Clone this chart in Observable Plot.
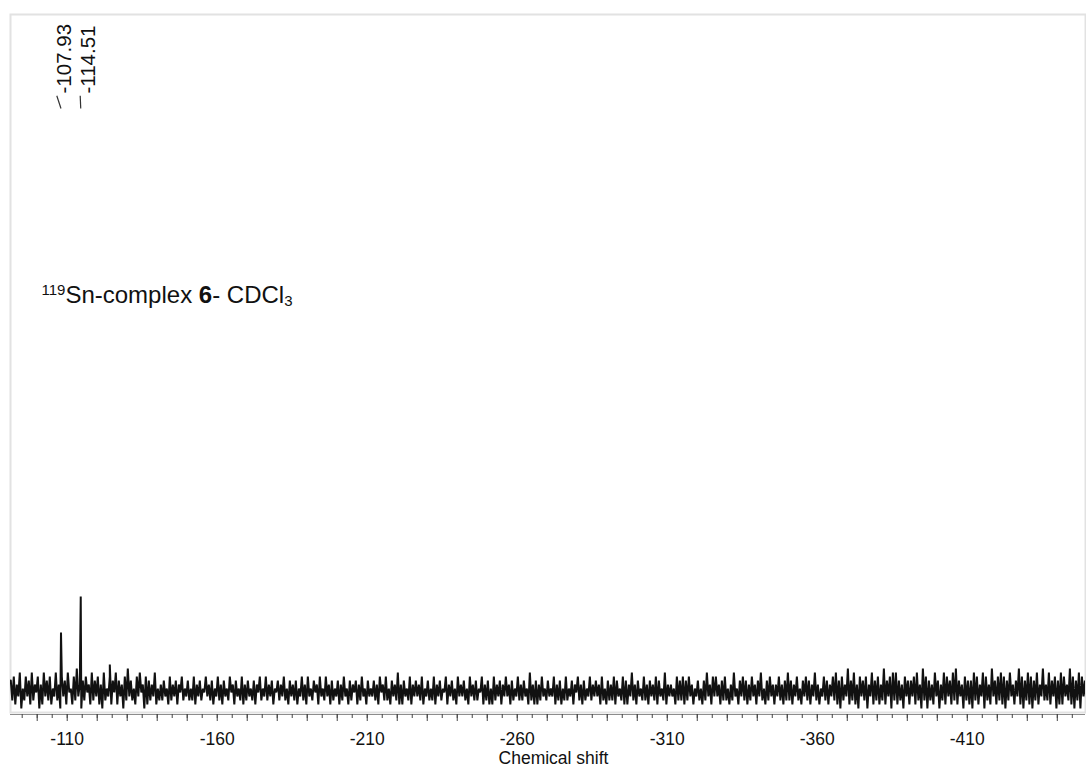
<!DOCTYPE html>
<html><head><meta charset="utf-8">
<script src="https://cdn.jsdelivr.net/npm/d3@7"></script>
<script src="https://cdn.jsdelivr.net/npm/@observablehq/plot@0.6"></script>
<style>
body{margin:0;background:#fff;font-family:"Liberation Sans",Arial,sans-serif;}
#chart svg{display:block;}
</style></head><body><div id="chart"></div>
<script>
// spectrum sampling grid (ppm)
const shiftStart = -91.2;
const shiftStep = -0.5;
// baseline noise intensities, left to right
const noise = [
7,2,8,1,6,3,9,0,5,2, 8,3,7,1,9,2,6,4,8,0, 6,1,9,3,7,2,8,1,5,3, 9,2,6,0,8,3,7,1,9,4,
5,1,8,2,10,3,6,0,7,2, 8,4,6,1,9,2,7,3,8,1, 6,0,9,2,5,3,8,1,7,4, 9,1,7,3,6,0,8,2,10,3,
7,2,5,1,8,3,9,4,6,0, 8,1,7,2,6,3,9,1,5,2,
6,2,7,3,5,1,8,2,6,3, 7,1,6,4,8,2,5,3,7,2, 5,2,8,1,6,3,7,2,5,4, 8,3,6,2,7,1,5,3,8,2,
6,1,7,3,5,2,8,4,6,1, 7,3,5,2,8,1,6,2,7,3, 5,2,7,1,6,4,8,2,5,3, 8,2,6,3,7,1,5,4,7,2,
6,3,8,2,5,1,7,3,6,2, 7,1,5,3,8,2,6,1,8,3, 5,2,7,4,6,1,8,3,5,2, 8,3,6,1,7,2,5,3,7,1,
6,2,8,3,5,1,7,2,6,4, 7,1,6,2,8,3,5,1,7,3, 5,3,7,2,6,1,8,4,6,2, 8,2,5,1,7,3,6,2,9,1,
6,1,7,3,5,2,8,1,6,3, 7,3,6,2,8,1,5,3,7,2, 5,2,8,1,6,3,7,2,5,4, 8,1,6,3,7,2,5,1,8,3,
6,3,7,2,5,1,8,3,6,2, 7,2,5,4,8,1,6,2,7,1, 5,1,8,2,6,3,7,1,6,3, 8,3,6,1,7,2,5,3,8,2,
6,2,7,3,5,1,9,2,6,1, 7,1,6,2,8,3,5,2,7,3, 5,3,8,1,6,2,7,1,5,2, 8,2,5,3,7,1,6,4,8,2,
6,1,7,2,5,3,8,2,6,3, 7,3,6,1,8,2,5,1,7,2,
6,2,8,1,7,3,5,2,8,1, 7,1,6,3,9,2,6,1,7,3, 5,2,8,2,6,1,7,3,6,2, 8,1,7,3,5,2,9,1,6,3,
6,3,5,1,8,2,7,2,8,1, 7,2,8,3,6,1,5,3,7,2, 5,1,7,2,9,3,6,1,8,3, 8,3,6,1,7,2,8,2,5,1,
6,2,9,3,5,1,7,3,8,2, 7,1,6,2,8,3,6,1,7,3, 9,2,5,1,7,2,8,3,6,1, 6,3,8,2,6,1,7,2,9,2,
7,1,6,3,8,2,5,1,7,3, 8,2,7,1,6,3,9,2,6,1, 5,3,8,2,7,1,6,3,8,2,
9,1,7,0,8,2,6,3,10,1, 7,2,9,1,6,0,8,3,7,2, 8,0,6,3,9,1,7,2,8,1, 6,2,10,1,7,3,8,0,9,2,
9,1,7,2,6,0,8,3,7,1, 7,3,8,1,9,2,6,0,10,2, 8,0,7,2,6,1,9,3,7,0, 6,2,9,1,8,3,7,1,9,2,
10,1,7,3,6,0,8,2,7,1, 7,0,9,2,8,1,6,3,9,0, 8,2,6,1,10,3,7,1,8,2, 9,1,8,0,7,2,9,3,6,1,
7,3,10,1,8,0,7,2,9,1, 8,0,7,2,9,1,6,3,10,2, 6,2,9,1,7,3,8,0,7,1, 9,1,8,3,6,2,10,1,8,0,
7,2,9,0,8,3,7,1,9,2
];
// signals
const peakShifts = [-107.93, -114.51, -124.2];
const peakHeights = [19, 28, 11];
// peak labels and where they sit along the axis (ppm)
const peakLabels = ["-107.93", "-114.51"];
const labelShifts = [-106.53, -114.33];
// axis
const tickLabels = [-110, -160, -210, -260, -310, -360, -410];
const xLabel = "Chemical shift";

const spectrum = noise.map((v, i) => ({shift: shiftStart + shiftStep * i, intensity: v}));
peakShifts.forEach((s, i) => spectrum.push({shift: s, intensity: peakHeights[i]}));
spectrum.sort((a, b) => b.shift - a.shift);

const minorTicks = d3.range(-95, -450, -5);
const midTicks = d3.range(-100, -450, -10);

const plot = Plot.plot({
  width: 1086, height: 768,
  marginLeft: 10, marginRight: 1, marginTop: 14, marginBottom: 54,
  x: {domain: [-91.1, -449.4], label: null},
  y: {domain: [-1.5, 173.5], axis: null},
  style: {fontFamily: "'Liberation Sans', Arial, sans-serif", background: "#fff", color: "#111"},
  marks: [
    Plot.frame({stroke: "#e2e2e2", strokeWidth: 2, insetBottom: 2}),
    Plot.line(spectrum, {x: "shift", y: "intensity", stroke: "#111", strokeWidth: 2, strokeLinejoin: "miter", strokeMiterlimit: 2, clip: true}),
    Plot.ruleY([-1.5], {stroke: "#8c8c8c", strokeWidth: 1.2}),
    Plot.axisX(minorTicks, {tickSize: 4, tickFormat: () => "", stroke: "#444", label: null}),
    Plot.axisX(midTicks, {tickSize: 7, tickFormat: () => "", stroke: "#444", label: null}),
    Plot.axisX(tickLabels, {tickSize: 0, tickPadding: 18, fontSize: 17.5, fill: "#111", label: null, tickFormat: d => String(d)}),
    Plot.text([xLabel], {frameAnchor: "bottom", dx: 5.5, dy: 49, fontSize: 17.5, fill: "#111"}),
    Plot.text(peakLabels, {x: (d, i) => labelShifts[i], text: d => d, rotate: -90, textAnchor: "start", frameAnchor: "top", dy: 79, fontSize: 20.5, fill: "#111"}),
    Plot.link(peakLabels, {x1: (d, i) => labelShifts[i], x2: (d, i) => peakShifts[i], y1: 153.2, y2: 150, stroke: "#333", strokeWidth: 1.2})
  ]
});

const svg = d3.select(plot);
const t = svg.append("text").attr("x", 41.5).attr("y", 303).attr("font-size", 24).attr("fill", "#111")
  .attr("text-anchor", "start")
  .attr("font-family", "'Liberation Sans', Arial, sans-serif");
t.append("tspan").attr("font-size", 15).attr("dy", -8).text("119");
t.append("tspan").attr("dy", 8).text("Sn-complex ");
t.append("tspan").attr("font-weight", "bold").text("6");
t.append("tspan").text("- CDCl");
t.append("tspan").attr("font-size", 15).attr("dy", 3).text("3");

document.getElementById("chart").appendChild(plot);
</script></body></html>
